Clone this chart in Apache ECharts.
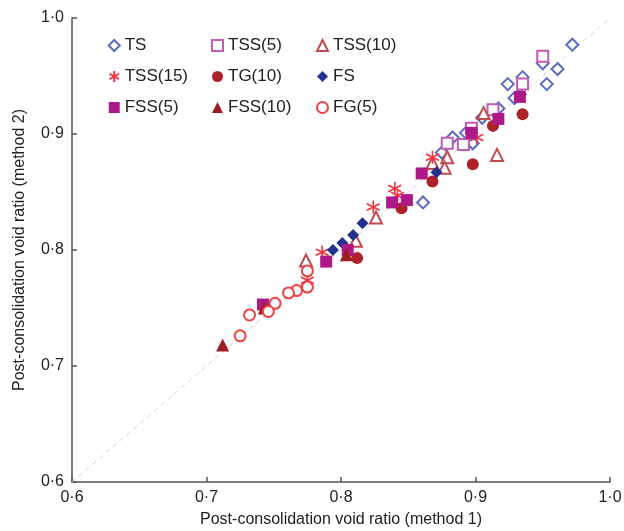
<!DOCTYPE html>
<html>
<head>
<meta charset="utf-8">
<script src="https://cdn.jsdelivr.net/npm/echarts@6/dist/echarts.min.js"></script>
<style>
  html, body { margin: 0; padding: 0; background: #fff; }
  #chart { width: 624px; height: 531px; }
</style>
</head>
<body>
<div id="chart"></div>
<script>
// values: [method 1, method 2]
const tsData = [
  [0.972, 0.977], [0.950, 0.961], [0.961, 0.956], [0.953, 0.943], [0.935, 0.949],
  [0.924, 0.943], [0.933, 0.934], [0.929, 0.931], [0.917, 0.922], [0.905, 0.914],
  [0.893, 0.901], [0.883, 0.897], [0.898, 0.892], [0.875, 0.884], [0.861, 0.841]
];
const tss5Data = [
  [0.950, 0.967], [0.935, 0.943], [0.913, 0.921], [0.897, 0.905], [0.879, 0.892], [0.891, 0.891]
];
const tss10Data = [
  [0.906, 0.918], [0.916, 0.882], [0.879, 0.880], [0.877, 0.871], [0.868, 0.875],
  [0.826, 0.828], [0.811, 0.808], [0.774, 0.791]
];
const tss15Data = [
  [0.901, 0.897], [0.868, 0.880], [0.840, 0.853], [0.842, 0.847], [0.824, 0.837],
  [0.786, 0.798], [0.775, 0.774]
];
const tg10Data = [
  [0.935, 0.917], [0.913, 0.907], [0.898, 0.874], [0.868, 0.859], [0.845, 0.836], [0.812, 0.793]
];
const fsData = [
  [0.871, 0.867], [0.816, 0.823], [0.809, 0.813], [0.801, 0.806], [0.794, 0.800]
];
const fss5Data = [
  [0.933, 0.932], [0.917, 0.913], [0.897, 0.901], [0.860, 0.866], [0.849, 0.843],
  [0.838, 0.841], [0.805, 0.800], [0.789, 0.790], [0.742, 0.753]
];
const fss10Data = [
  [0.712, 0.718], [0.743, 0.750], [0.804, 0.796]
];
const fg5Data = [
  [0.775, 0.782], [0.775, 0.768], [0.767, 0.765], [0.761, 0.763], [0.751, 0.754],
  [0.746, 0.747], [0.732, 0.744], [0.725, 0.726]
];
const lineData = [[0.6, 0.6], [1.0, 1.0]];

const axisMin = 0.6, axisMax = 1.0, axisStep = 0.1;

const FONT = 'Liberation Sans, Arial, sans-serif';
const asterisk = 'path://M5,0L5,10M0.7,2.5L9.3,7.5M0.7,7.5L9.3,2.5';

const fmt = (v) => v.toFixed(1).replace('.', '\u00b7');

const chart = echarts.init(document.getElementById('chart'));

const axisCommon = {
  type: 'value',
  min: axisMin,
  max: axisMax,
  interval: axisStep,
  nameLocation: 'middle',
  nameTextStyle: { fontFamily: FONT, fontSize: 16, color: '#222' },
  axisLine: { show: true, lineStyle: { color: '#555', width: 1.5 } },
  axisTick: { show: true, inside: true, length: 5, lineStyle: { color: '#555', width: 1.5 } },
  axisLabel: { formatter: fmt, fontFamily: FONT, fontSize: 16, color: '#222' },
  splitLine: { show: false }
};

function scatter(name, data, symbol, size, color, extra) {
  return Object.assign({
    name: name,
    type: 'scatter',
    data: data,
    symbol: symbol,
    symbolSize: size,
    itemStyle: { color: color, opacity: 1 },
    z: 3
  }, extra || {});
}

const legendBase = {
  orient: 'vertical',
  top: 32,
  itemWidth: 11,
  itemHeight: 11,
  itemGap: 14,
  textStyle: { fontFamily: FONT, fontSize: 17, color: '#222' },
  selectedMode: false
};

const option = {
  animation: false,
  backgroundColor: '#fff',
  grid: { left: 72, right: 14, top: 18, bottom: 49, outerBoundsMode: 'none' },
  legend: [
    Object.assign({ left: 102, data: ['TS', 'TSS(15)', 'FSS(5)'] }, legendBase),
    Object.assign({ left: 206, data: ['TSS(5)', 'TG(10)', 'FSS(10)'] }, legendBase),
    Object.assign({ left: 311, data: ['TSS(10)', 'FS', 'FG(5)'] }, legendBase)
  ],
  xAxis: Object.assign({}, axisCommon, {
    name: 'Post-consolidation void ratio (method 1)',
    nameGap: 30
  }),
  yAxis: Object.assign({}, axisCommon, {
    name: 'Post-consolidation void ratio (method 2)',
    nameGap: 44
  }),
  series: [
    {
      type: 'line',
      data: lineData,
      symbol: 'none',
      silent: true,
      lineStyle: { color: '#d4d4d4', width: 1, type: [5, 4] },
      z: 1
    },
    scatter('TS', tsData, 'emptyDiamond', 12, '#5b6cc0'),
    scatter('TSS(5)', tss5Data, 'emptyRect', 11, '#c25ab6'),
    scatter('TSS(10)', tss10Data, 'emptyTriangle', 12, '#c04a50'),
    scatter('TSS(15)', tss15Data, asterisk, 13, '#f2343f', {
      itemStyle: { color: 'none', borderColor: '#f2343f', borderWidth: 1.6, opacity: 1 }
    }),
    scatter('TG(10)', tg10Data, 'circle', 12, '#ac2228'),
    scatter('FS', fsData, 'diamond', 12, '#25318f'),
    scatter('FSS(5)', fss5Data, 'rect', 12, '#ad1a88'),
    scatter('FSS(10)', fss10Data, 'triangle', 13, '#a01c24'),
    scatter('FG(5)', fg5Data, 'emptyCircle', 11, '#f04040')
  ]
};

chart.setOption(option);
</script>
</body>
</html>
